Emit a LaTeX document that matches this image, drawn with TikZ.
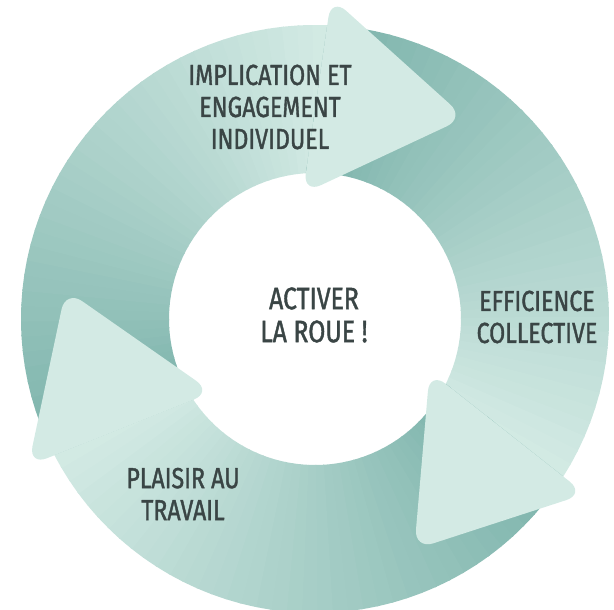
\documentclass[tikz,border=0pt]{standalone}
\usepackage{fontspec}
\setmainfont{Fira Sans}[FakeStretch=0.8, FakeBold=1.3]
\usetikzlibrary{calc}
\definecolor{ringdark}{HTML}{7FB5AD}
\definecolor{ringlight}{HTML}{D3EAE4}
\definecolor{labeltext}{HTML}{3A4545}

\begin{document}
\begin{tikzpicture}[x=1pt, y=1pt]

% Define styles
\tikzstyle{ringtext} = [align=center, text=labeltext, font=\fontsize{29}{32}\selectfont, inner sep=0pt]
\tikzstyle{headshape} = [fill=ringlight, rounded corners=20pt]

\useasboundingbox (0,0) rectangle (614,610);
\coordinate (c) at (315,291);

% Bands of the wheel, dark at the start and light near the head
\foreach \t in {56.5, -63.5, 176.5} {
  \begin{scope}
    \coordinate (pa) at ($(c)+(\t+159:126pt)$);
    \coordinate (pb) at ($(c)+(\t+150.6:322pt)$);
    \coordinate (qa) at ($(c)+(\t+39:126pt)$);
    \coordinate (qb) at ($(c)+(\t+30.6:322pt)$);
    \clip ($(pa)!-0.6!(pb)$) -- ($(pa)!1.8!(pb)$) -- ($(c)+(\t+90:700pt)$)
      -- ($(qa)!1.8!(qb)$) -- ($(qa)!-0.6!(qb)$) -- cycle;
    \foreach \i in {0,...,44} {
      \pgfmathsetmacro{\a}{\t+160-3*\i}
      \pgfmathtruncatemacro{\p}{min(100,max(0,(3*\i-10)*0.855))}
      \colorlet{band}{ringlight!\p!ringdark}
      \fill[band] ($(c)+(\a:294pt)$) arc[start angle=\a, end angle=\a-3.4, radius=294pt]
        -- ($(c)+(\a-3.4:146pt)$) arc[start angle=\a-3.4, end angle=\a, radius=146pt] -- cycle;
    }
  \end{scope}
}

% Arrow heads
\foreach \t in {56.5, -63.5, 176.5} {
  \fill[headshape] ($(c)+(\t+39:126pt)$) -- ($(c)+(\t+30.6:322pt)$) -- ($(c)+(\t-3.2:251pt)$) -- cycle;
}

% Texts
\node[ringtext, font=\fontsize{31}{33}\selectfont] (centre) at (314,295) {ACTIVER\\LA ROUE !};
\node[ringtext] (implication) at (270,503) {IMPLICATION ET\\ENGAGEMENT\\INDIVIDUEL};
\node[ringtext] (efficience) at (537,293) {EFFICIENCE\\COLLECTIVE};
\node[ringtext] (plaisir) at (183,116) {PLAISIR AU\\TRAVAIL};

\end{tikzpicture}
\end{document}
